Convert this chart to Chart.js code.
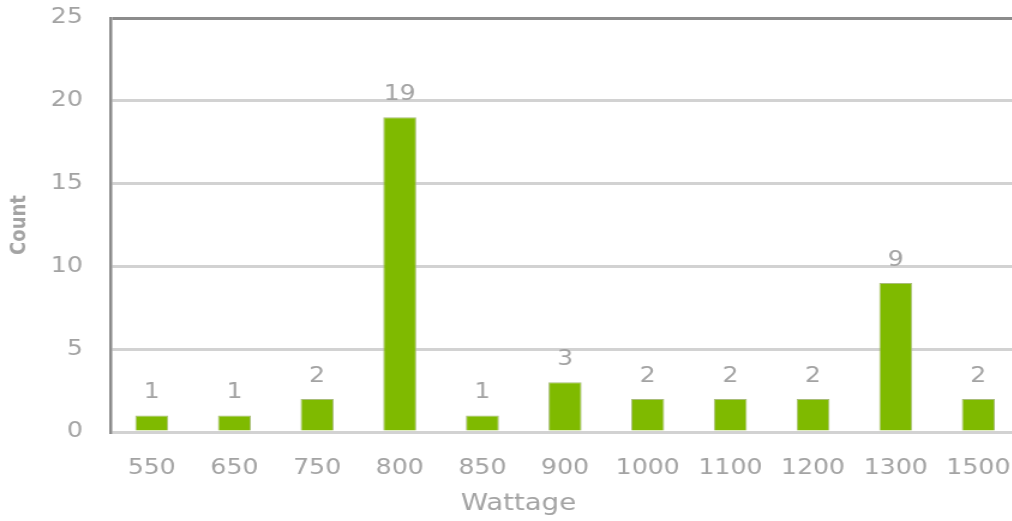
<!DOCTYPE html>
<html>
<head>
<meta charset="utf-8">
<title>Wattage count</title>
<script src="https://cdn.jsdelivr.net/npm/chart.js@4.4.1/dist/chart.umd.min.js"></script>
<style>
  html, body { margin: 0; padding: 0; background: #fff; overflow: hidden; }
  /* the chart is drawn narrow and stretched sideways, giving the wide lettering */
  #wrap {
    position: absolute; left: 0; top: 0;
    width: 858px; height: 521px;
    transform: scaleX(1.2); transform-origin: 0 0;
  }
</style>
</head>
<body>
<div id="wrap"><canvas id="chart"></canvas></div>
<script>
// Wattage histogram
const wattages = ['550', '650', '750', '800', '850', '900', '1000', '1100', '1200', '1300', '1500'];
const counts = [1, 1, 2, 19, 1, 3, 2, 2, 2, 9, 2];
const countTicks = [0, 5, 10, 15, 20, 25];

const FONT = 'DejaVu Sans';
const GREY_TEXT = '#a3a3a3';
const BAR_GREEN = '#7fba00';

// Numbers above each bar
const barLabels = {
    id: 'barLabels',
    afterDatasetsDraw(chart) {
        const ctx = chart.ctx;
        const meta = chart.getDatasetMeta(0);
        ctx.save();
        ctx.font = `21px "${FONT}"`;
        ctx.fillStyle = GREY_TEXT;
        ctx.textAlign = 'center';
        ctx.textBaseline = 'alphabetic';
        meta.data.forEach((bar, i) => {
            ctx.fillText(String(counts[i]), bar.x, bar.y - 17);
        });
        ctx.restore();
    }
};

// Axis caption under the categories
const xCaption = {
    id: 'xCaption',
    afterDraw(chart) {
        const ctx = chart.ctx;
        ctx.save();
        ctx.font = `23px "${FONT}"`;
        ctx.fillStyle = GREY_TEXT;
        ctx.textAlign = 'center';
        ctx.textBaseline = 'middle';
        ctx.fillText('Wattage', 432, 504);
        ctx.restore();
    }
};

new Chart(document.getElementById('chart'), {
    type: 'bar',
    data: {
        labels: wattages,
        datasets: [{
            data: counts,
            backgroundColor: BAR_GREEN,
            borderColor: '#a9bd7a',
            borderWidth: 1,
            barPercentage: 0.4,
            categoryPercentage: 1.0
        }]
    },
    options: {
        responsive: true,
        maintainAspectRatio: false,
        animation: false,
        layout: { padding: { top: 18, left: 0, right: 0, bottom: 0 } },
        plugins: {
            legend: { display: false },
            tooltip: { enabled: false }
        },
        scales: {
            x: {
                grid: { display: false },
                border: { display: false },
                ticks: {
                    color: GREY_TEXT,
                    font: { family: FONT, size: 21 },
                    padding: 16,
                    maxRotation: 0,
                    autoSkip: false
                },
                afterFit(scale) { scale.height = 89; }
            },
            y: {
                min: countTicks[0],
                max: countTicks[countTicks.length - 1],
                afterBuildTicks(scale) {
                    scale.ticks = countTicks.map(v => ({ value: v }));
                },
                grid: {
                    drawTicks: true,
                    tickLength: 23,
                    tickColor: 'rgba(0,0,0,0)',
                    lineWidth: 3,
                    color: c => (c.tick && c.tick.value === 25) ? '#8c8c8c' : '#d2d2d2'
                },
                border: { display: true, color: '#8a8a8a', width: 2.5 },
                ticks: {
                    color: GREY_TEXT,
                    font: { family: FONT, size: 21 },
                    padding: 0
                },
                title: {
                    display: true,
                    text: 'Count',
                    color: GREY_TEXT,
                    font: { family: FONT, size: 18, weight: 'bold' },
                    padding: { top: 6, bottom: 0 }
                },
                afterFit(scale) { scale.width = 92; }
            }
        }
    },
    plugins: [barLabels, xCaption]
});
</script>
</body>
</html>
